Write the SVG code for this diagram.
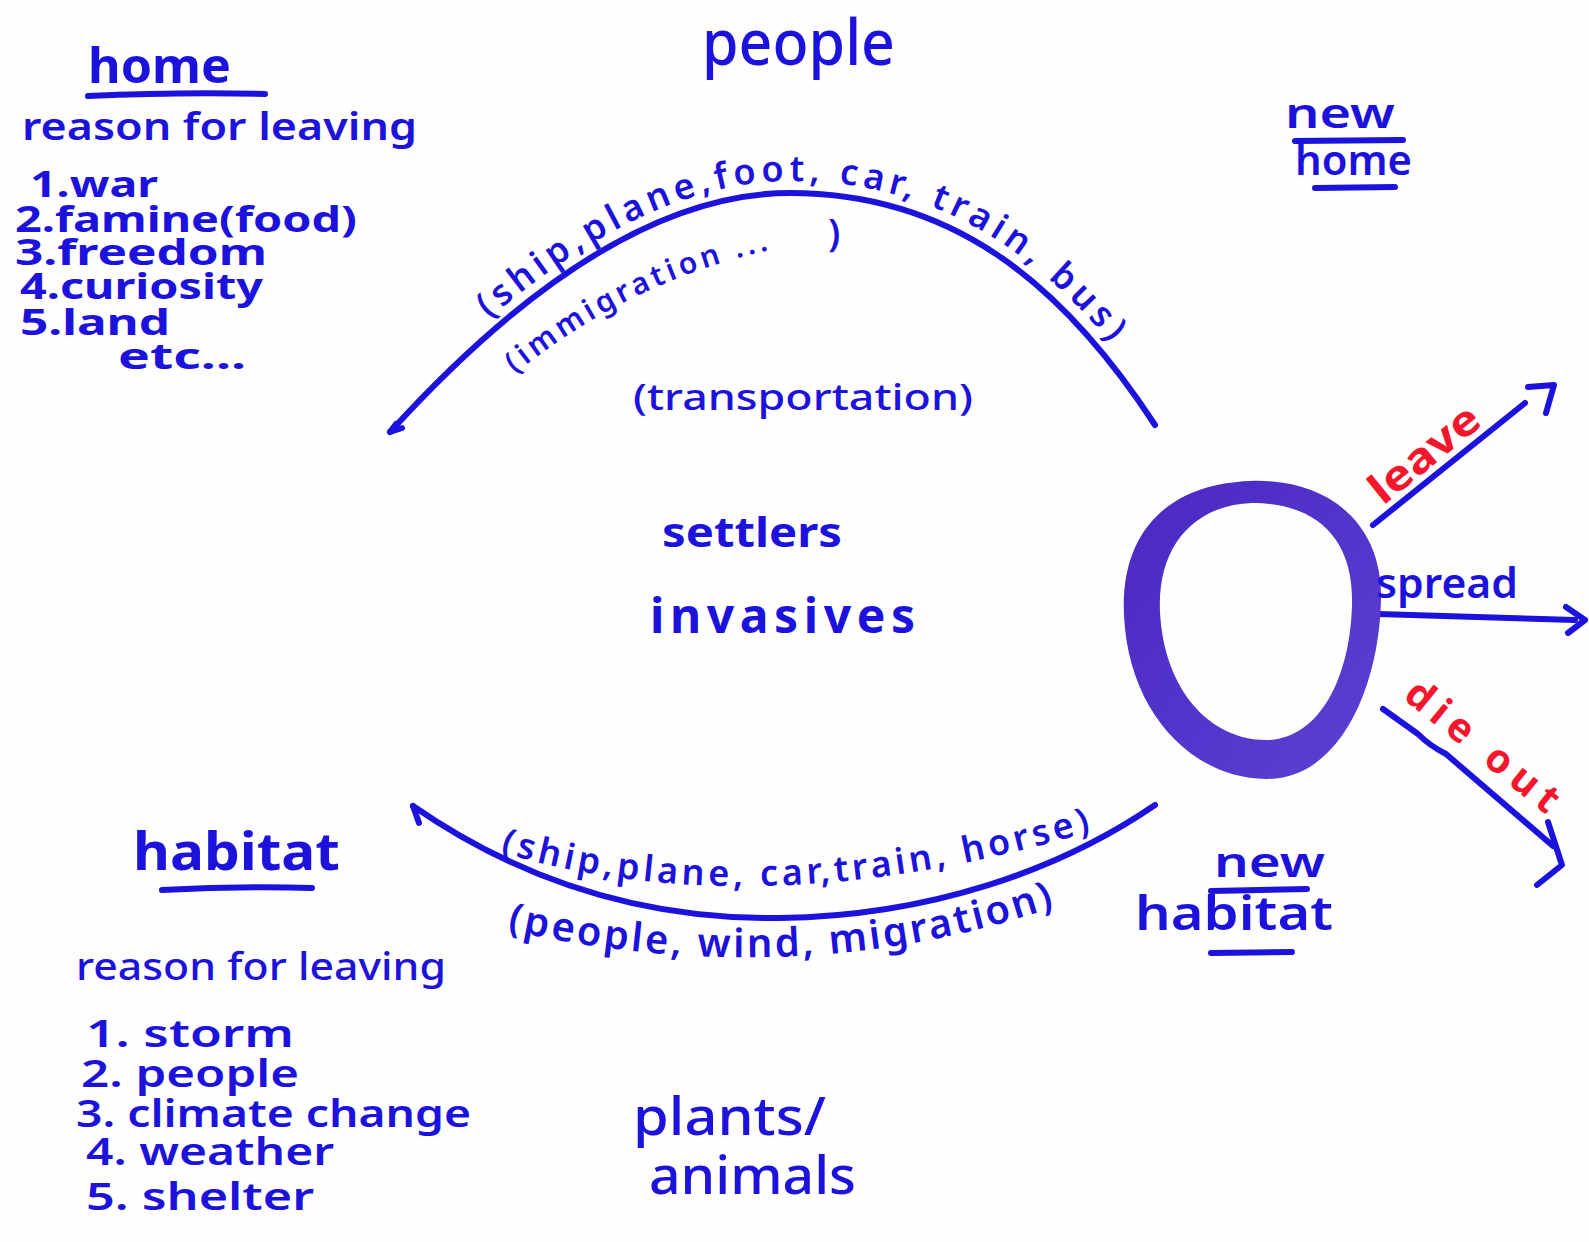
<svg xmlns="http://www.w3.org/2000/svg" width="1589" height="1242" viewBox="0 0 1589 1242">
  <style>
    .ink { fill: #1c12dc; font-family: "Noto Sans", "DejaVu Sans", sans-serif; }
    .red { fill: #f3162d; font-family: "Noto Sans", "DejaVu Sans", sans-serif; font-weight: 700; }
    .b { font-weight: 700; }
    .m { font-weight: 600; }
    .n { font-weight: 500; }
    .line { fill: none; stroke: #1c12dc; stroke-width: 6; stroke-linecap: round; stroke-linejoin: round; }
    .under { fill: none; stroke: #1c12dc; stroke-width: 6; stroke-linecap: round; }
  </style>
  <defs>
    <!-- baselines for the labels that follow the two arcs -->
    <path id="topArcText" d="M382,424 C505,288 648,181 790,181 C955,181 1068,270 1166,418"/>
    <path id="immigrationText" d="M515,374 Q640,272 800,244"/>
    <path id="bottomArcText" d="M500,852 Q760,930 1095,830"/>
    <path id="bottomArcText2" d="M507,930 Q800,995 1060,905"/>
    <linearGradient id="ringShade" x1="0" y1="0" x2="1" y2="1">
      <stop offset="0" stop-color="#4a28c4"/>
      <stop offset="1" stop-color="#5c40d2"/>
    </linearGradient>
  </defs>

  <rect width="1589" height="1242" fill="#fefefe"/>

  <!-- connectors: migration arcs and the three outcome arrows -->
  <g id="connectors">
    <path class="line" d="M390,432 C510,300 650,193 790,193 C950,193 1060,280 1155,425"/>
    <path class="line" d="M390,432 L396,424 M390,432 L402,428"/>
    <path class="line" d="M413,806 C520,880 640,920 780,918 C930,916 1060,870 1155,805"/>
    <path class="line" d="M413,806 L419,823"/>
    <path class="line" d="M1373,525 L1525,403"/>
    <path class="line" d="M1528,387 L1554,385 L1546,413"/>
    <path class="line" d="M1378,614 L1575,620"/>
    <path class="line" d="M1566,607 L1585,620 L1568,633"/>
    <path class="line" d="M1383,709 L1418,734 Q1430,746 1446,754 L1553,846"/>
    <path class="line" d="M1548,822 L1562,865 L1537,885"/>
  </g>

  <g id="people">
    <text class="ink n" x="702" y="65" font-size="64" textLength="193" lengthAdjust="spacingAndGlyphs">people</text>
  </g>

  <g id="home">
    <text class="ink b" x="88" y="83" font-size="48" textLength="143" lengthAdjust="spacingAndGlyphs">home</text>
    <path class="under" d="M88,96 Q180,92 265,94"/>
    <text class="ink m" x="22" y="140" font-size="38" textLength="395" lengthAdjust="spacingAndGlyphs">reason for leaving</text>
    <text class="ink b" x="30" y="197" font-size="36" textLength="128" lengthAdjust="spacingAndGlyphs">1.war</text>
    <text class="ink b" x="15" y="232" font-size="36" textLength="342" lengthAdjust="spacingAndGlyphs">2.famine(food)</text>
    <text class="ink b" x="15" y="265" font-size="36" textLength="252" lengthAdjust="spacingAndGlyphs">3.freedom</text>
    <text class="ink b" x="20" y="299" font-size="36" textLength="243" lengthAdjust="spacingAndGlyphs">4.curiosity</text>
    <text class="ink b" x="20" y="335" font-size="36" textLength="150" lengthAdjust="spacingAndGlyphs">5.land</text>
    <text class="ink b" x="118" y="369" font-size="36" textLength="128" lengthAdjust="spacingAndGlyphs">etc...</text>
  </g>

  <g id="new-home">
    <text class="ink m" x="1285" y="128" font-size="42" textLength="110" lengthAdjust="spacingAndGlyphs">new</text>
    <path class="under" d="M1295,141 L1403,140"/>
    <text class="ink m" x="1295" y="175" font-size="42" textLength="117" lengthAdjust="spacingAndGlyphs">home</text>
    <path class="under" d="M1315,188 L1395,187"/>
  </g>

  <g id="top-arc-labels">
    <text class="ink m" font-size="36"><textPath href="#topArcText" startOffset="150" textLength="710">(ship,plane,foot, car, train, bus)</textPath></text>
    <text class="ink m" font-size="30"><textPath href="#immigrationText" startOffset="0" textLength="285">(immigration ...</textPath></text>
    <text class="ink m" x="828" y="246" font-size="38">)</text>
    <text class="ink n" x="633" y="410" font-size="36" textLength="340" lengthAdjust="spacingAndGlyphs">(transportation)</text>
  </g>

  <g id="center">
    <text class="ink b" x="662" y="547" font-size="42" textLength="180" lengthAdjust="spacingAndGlyphs">settlers</text>
    <text class="ink b" x="650" y="633" font-size="48" textLength="265" lengthAdjust="spacing">invasives</text>
  </g>

  <!-- thick marker ring -->
  <g id="ring">
    <path fill="url(#ringShade)" fill-rule="evenodd" d="M1250,481 C1330,478 1383,525 1381,600 C1379,690 1338,780 1266,779 C1190,778 1128,710 1124,615 C1120,530 1170,484 1250,481 Z M1252,503 C1318,503 1354,540 1352,605 C1350,680 1318,740 1266,740 C1210,740 1164,690 1160,612 C1157,545 1195,505 1252,503 Z"/>
  </g>

  <g id="leave">
    <text class="red" font-size="42" transform="translate(1383,506) rotate(-39)" textLength="130" lengthAdjust="spacingAndGlyphs">leave</text>
  </g>
  <g id="spread">
    <text class="ink m" x="1376" y="598" font-size="42" textLength="142" lengthAdjust="spacingAndGlyphs">spread</text>
  </g>
  <g id="die-out">
    <text class="red" font-size="40" transform="translate(1402,698) rotate(39)" textLength="186" lengthAdjust="spacing">die out</text>
  </g>

  <g id="bottom-arc-labels">
    <text class="ink m" font-size="36"><textPath href="#bottomArcText" textLength="600">(ship,plane, car,train, horse)</textPath></text>
    <text class="ink m" font-size="40"><textPath href="#bottomArcText2" textLength="555">(people, wind, migration)</textPath></text>
  </g>

  <g id="new-habitat">
    <text class="ink m" x="1214" y="877" font-size="42" textLength="111" lengthAdjust="spacingAndGlyphs">new</text>
    <path class="under" d="M1211,891 L1307,889"/>
    <text class="ink m" x="1135" y="930" font-size="46" textLength="198" lengthAdjust="spacingAndGlyphs">habitat</text>
    <path class="under" d="M1211,953 L1292,952"/>
  </g>

  <g id="habitat">
    <text class="ink b" x="133" y="870" font-size="52" textLength="207" lengthAdjust="spacingAndGlyphs">habitat</text>
    <path class="under" d="M162,890 Q240,886 312,888"/>
    <text class="ink n" x="76" y="980" font-size="38" textLength="370" lengthAdjust="spacingAndGlyphs">reason for leaving</text>
    <text class="ink m" x="86" y="1047" font-size="38" textLength="208" lengthAdjust="spacingAndGlyphs">1. storm</text>
    <text class="ink m" x="81" y="1087" font-size="38" textLength="218" lengthAdjust="spacingAndGlyphs">2. people</text>
    <text class="ink m" x="76" y="1127" font-size="38" textLength="395" lengthAdjust="spacingAndGlyphs">3. climate change</text>
    <text class="ink m" x="86" y="1165" font-size="38" textLength="248" lengthAdjust="spacingAndGlyphs">4. weather</text>
    <text class="ink m" x="86" y="1210" font-size="38" textLength="228" lengthAdjust="spacingAndGlyphs">5. shelter</text>
  </g>

  <g id="plants-animals">
    <text class="ink n" x="633" y="1135" font-size="52" textLength="193" lengthAdjust="spacingAndGlyphs">plants/</text>
    <text class="ink n" x="649" y="1194" font-size="52" textLength="207" lengthAdjust="spacingAndGlyphs">animals</text>
  </g>
</svg>
